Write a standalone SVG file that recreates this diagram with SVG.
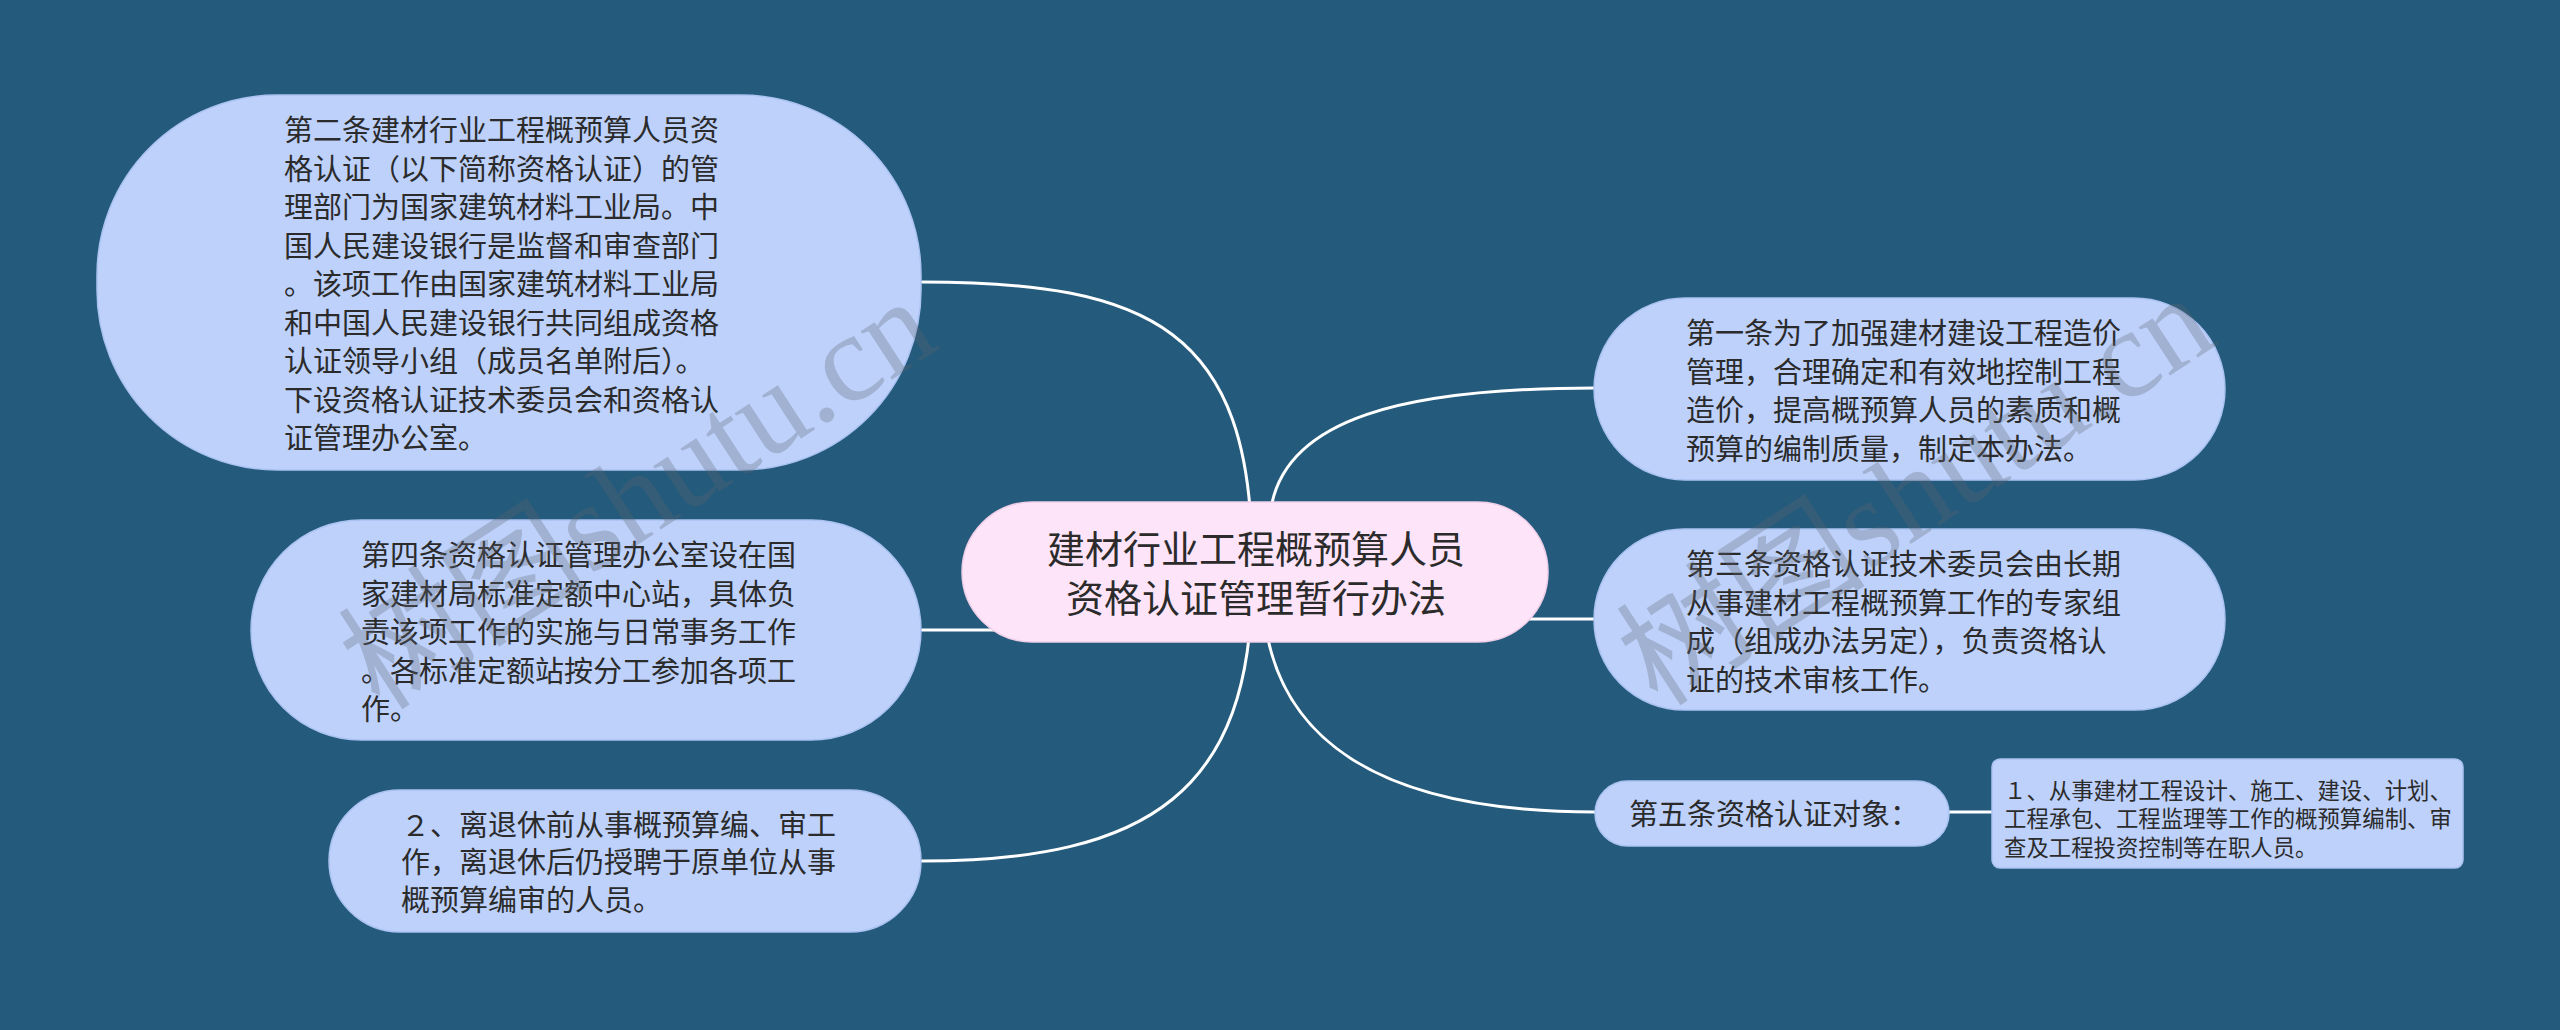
<svg xmlns="http://www.w3.org/2000/svg" width="2560" height="1030" viewBox="0 0 2560 1030">
<style>
.bg{fill:#245a7b}
.node{fill:#bdd1fb;stroke:#aac2f2;stroke-width:1.5}
.center{fill:#fde4f8;stroke:#f0cfe9;stroke-width:1.5}
.leaf{fill:#bdd1fb;stroke:#aac2f2;stroke-width:1.5}
.t{font-family:"Liberation Sans","Noto Sans CJK SC",sans-serif;font-size:29px;fill:#2b2b2b}
.tc{font-family:"Liberation Sans","Noto Sans CJK SC",sans-serif;font-size:38px;fill:#2b2b2b;text-anchor:middle}
.ts{font-family:"Liberation Sans","Noto Sans CJK SC",sans-serif;font-size:22.4px;fill:#2b2b2b}
.edge{fill:none;stroke:#ffffff;stroke-width:3;stroke-linecap:round}
.wm{font-family:"Liberation Serif","Noto Sans CJK SC",serif;font-size:125px;fill:#5f6670;fill-opacity:0.3}
</style>
<rect class="bg" x="0" y="0" width="2560" height="1030"/>
<g id="connectors">
<path class="edge" d="M1252 560 C1252 330 1150 282 922 282"/>
<path class="edge" d="M1266 531 L1272 503 C1290 420 1400 388 1595 388"/>
<path class="edge" d="M1450 619 L1595 619"/>
<path class="edge" d="M1263 600 C1270 740 1380 812 1595 812"/>
<path class="edge" d="M922 630 L1060 630"/>
<path class="edge" d="M1252 580 C1252 790 1150 861 922 861"/>
<path class="edge" d="M1949 812 L1992 812"/>
</g>
<g id="node-center">
<rect class="center" x="962" y="502" width="586" height="140" rx="70" ry="70"/>
<text class="tc" x="1256" y="562.5">建材行业工程概预算人员</text>
<text class="tc" x="1256" y="611.5">资格认证管理暂行办法</text>
</g>
<g id="node-art2">
<rect class="node" x="97" y="95" width="824" height="375" rx="180" ry="180"/>
<text class="t" x="284" y="141">第二条建材行业工程概预算人员资</text>
<text class="t" x="284" y="179.5">格认证（以下简称资格认证）的管</text>
<text class="t" x="284" y="218">理部门为国家建筑材料工业局。中</text>
<text class="t" x="284" y="256.5">国人民建设银行是监督和审查部门</text>
<text class="t" x="284" y="295">。该项工作由国家建筑材料工业局</text>
<text class="t" x="284" y="333.5">和中国人民建设银行共同组成资格</text>
<text class="t" x="284" y="372">认证领导小组（成员名单附后）。</text>
<text class="t" x="284" y="410.5">下设资格认证技术委员会和资格认</text>
<text class="t" x="284" y="449">证管理办公室。</text>
</g>
<g id="node-art1">
<rect class="node" x="1594" y="298" width="631" height="182" rx="91" ry="91"/>
<text class="t" x="1686" y="344">第一条为了加强建材建设工程造价</text>
<text class="t" x="1686" y="382.5">管理，合理确定和有效地控制工程</text>
<text class="t" x="1686" y="421">造价，提高概预算人员的素质和概</text>
<text class="t" x="1686" y="459.5">预算的编制质量，制定本办法。</text>
</g>
<g id="node-art3">
<rect class="node" x="1594" y="529" width="631" height="181" rx="90" ry="90"/>
<text class="t" x="1686" y="575">第三条资格认证技术委员会由长期</text>
<text class="t" x="1686" y="613.5">从事建材工程概预算工作的专家组</text>
<text class="t" x="1686" y="652">成（组成办法另定），负责资格认</text>
<text class="t" x="1686" y="690.5">证的技术审核工作。</text>
</g>
<g id="node-art4">
<rect class="node" x="251" y="520" width="670" height="220" rx="110" ry="110"/>
<text class="t" x="361" y="566">第四条资格认证管理办公室设在国</text>
<text class="t" x="361" y="604.5">家建材局标准定额中心站，具体负</text>
<text class="t" x="361" y="643">责该项工作的实施与日常事务工作</text>
<text class="t" x="361" y="681.5">。各标准定额站按分工参加各项工</text>
<text class="t" x="361" y="720">作。</text>
</g>
<g id="node-retired">
<rect class="node" x="329" y="790" width="592" height="142" rx="71" ry="71"/>
<text class="t" x="401" y="835.5">２、离退休前从事概预算编、审工</text>
<text class="t" x="401" y="873">作，离退休后仍授聘于原单位从事</text>
<text class="t" x="401" y="910.5">概预算编审的人员。</text>
</g>
<g id="node-art5">
<rect class="node" x="1595" y="781" width="354" height="65" rx="32.5" ry="32.5"/>
<text class="t" x="1629" y="825">第五条资格认证对象：</text>
</g>
<g id="node-leaf">
<rect class="leaf" x="1992" y="759" width="471" height="109" rx="8" ry="8"/>
<text class="ts" x="2004" y="798.5">１、从事建材工程设计、施工、建设、计划、</text>
<text class="ts" x="2004" y="827">工程承包、工程监理等工作的概预算编制、审</text>
<text class="ts" x="2004" y="855.5">查及工程投资控制等在职人员。</text>
</g>
<g id="watermarks">
<text class="wm" transform="translate(380,712) rotate(-33)">树图shutu.cn</text>
<text class="wm" transform="translate(1658,708) rotate(-33)">树图shutu.cn</text>
</g>
</svg>
